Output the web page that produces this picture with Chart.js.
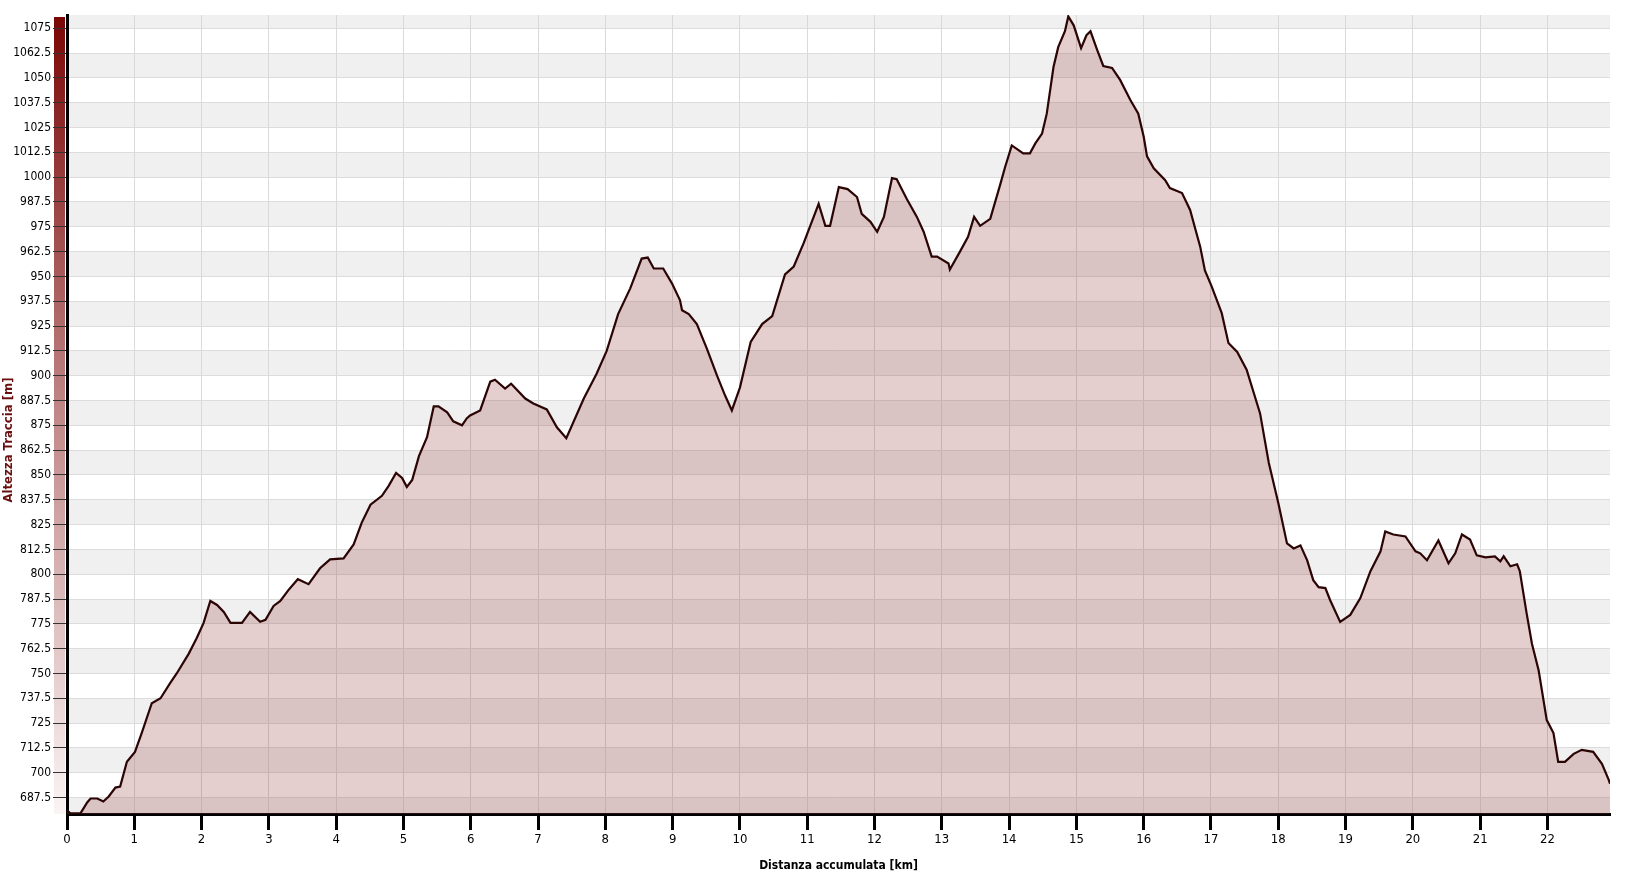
<!DOCTYPE html>
<html>
<head>
<meta charset="utf-8">
<script src="https://cdn.jsdelivr.net/npm/chart.js@4/dist/chart.umd.min.js"></script>
<style>
  body { margin: 0; background: #fff; }
</style>
</head>
<body>
<canvas id="profile" width="1638" height="877"></canvas>
<script>
// distance along the track (km) and altitude (m)
const distKm = [0, 0.05, 0.2, 0.3, 0.35, 0.45, 0.54, 0.62, 0.72, 0.79, 0.89, 1.01, 1.11, 1.26, 1.39, 1.53, 1.63, 1.81, 1.93, 2.03,
  2.13, 2.23, 2.33, 2.43, 2.6, 2.72, 2.87, 2.95, 3.07, 3.17, 3.29, 3.43, 3.59, 3.76, 3.91, 4.11, 4.26, 4.38, 4.51, 4.68,
  4.78, 4.89, 4.98, 5.05, 5.13, 5.23, 5.35, 5.45, 5.52, 5.65, 5.74, 5.87, 5.94, 5.99, 6.14, 6.29, 6.36, 6.51, 6.6, 6.81,
  6.93, 7.13, 7.28, 7.42, 7.68, 7.87, 8.02, 8.19, 8.37, 8.54, 8.63, 8.72, 8.86, 8.99, 9.11, 9.14, 9.24, 9.36, 9.51, 9.66,
  9.78, 9.88, 10.0, 10.16, 10.33, 10.48, 10.67, 10.8, 10.95, 11.17, 11.27, 11.34, 11.47, 11.6, 11.74, 11.81, 11.94, 12.04, 12.14, 12.26,
  12.33, 12.48, 12.63, 12.73, 12.85, 12.93, 13.1, 13.12, 13.27, 13.39, 13.48, 13.57, 13.72, 13.87, 13.94, 14.04, 14.21, 14.31, 14.39, 14.49,
  14.56, 14.66, 14.73, 14.83, 14.88, 14.96, 15.07, 15.15, 15.21, 15.31, 15.4, 15.53, 15.65, 15.8, 15.92, 16.0, 16.05, 16.15, 16.32, 16.39,
  16.57, 16.69, 16.84, 16.91, 17.01, 17.16, 17.26, 17.39, 17.53, 17.73, 17.86, 18.0, 18.13, 18.23, 18.33, 18.43, 18.52, 18.6, 18.7, 18.77,
  18.92, 19.07, 19.22, 19.37, 19.52, 19.59, 19.71, 19.89, 20.04, 20.11, 20.21, 20.38, 20.53, 20.63, 20.73, 20.85, 20.95, 21.08, 21.22, 21.3,
  21.35, 21.45, 21.55, 21.59, 21.69, 21.77, 21.87, 21.99, 22.09, 22.16, 22.26, 22.39, 22.51, 22.68, 22.81, 22.91, 22.93];
const altM = [681, 679.5, 679.5, 685, 687, 687, 685.5, 688, 692.5, 693, 705.5, 710.5, 720, 735, 737.5, 745, 750, 760, 768, 775.5,
  786.5, 784.5, 781, 775.5, 775.5, 781, 776, 777, 784, 786.5, 792, 797.5, 795, 803, 807.5, 808, 815, 826, 835, 839.5,
  844.5, 851, 848.5, 844, 847.5, 859.5, 869, 884.5, 884.5, 881.5, 877, 875, 878.5, 880, 882.5, 897, 898, 893.5, 896, 888.5,
  886, 883, 874, 868.5, 888.5, 901, 912.5, 931, 944, 959, 959.5, 954, 954, 946.5, 938, 933, 931, 926, 913.5, 900,
  890, 882.5, 894, 917, 926, 930, 951, 955, 967, 986.5, 975.5, 975.5, 995, 994, 990, 981.5, 977.5, 972.5, 980, 999.5,
  999, 989, 980, 972.5, 960, 960, 956.5, 953.5, 962.5, 970, 980, 975.5, 979, 996.5, 1005, 1016, 1012, 1012, 1017, 1022,
  1032, 1055.5, 1065.5, 1073.5, 1081, 1076.5, 1065, 1071.5, 1073.5, 1064, 1056, 1055, 1049, 1039, 1032, 1020.5, 1010.5, 1004.5, 998.5, 994.5,
  992, 983.5, 965, 953, 945, 931.5, 916.5, 912, 903, 881, 856, 836, 815.5, 813, 814.5, 807, 797, 793.5, 793, 787,
  776, 779.5, 788, 801.5, 811.5, 821.5, 820, 819, 811.5, 810.5, 807, 817, 805.5, 810.5, 820, 817.5, 809.5, 808.5, 809, 806.5,
  809, 804, 805, 801.5, 780.5, 765, 751.5, 726.5, 720, 705.5, 705.5, 709.5, 711.5, 710.5, 704.5, 696.5, 694.5];

const kmTicks = [0, 1, 2, 3, 4, 5, 6, 7, 8, 9, 10, 11, 12, 13, 14, 15, 16, 17, 18, 19, 20, 21, 22];
const altTicks = [687.5, 700, 712.5, 725, 737.5, 750, 762.5, 775, 787.5, 800, 812.5, 825, 837.5, 850, 862.5, 875, 887.5, 900,
  912.5, 925, 937.5, 950, 962.5, 975, 987.5, 1000, 1012.5, 1025, 1037.5, 1050, 1062.5, 1075];

// grey / white bands behind the plot, plus the red gradient strip beside the y axis
const bandsPlugin = {
  id: 'bands',
  beforeDraw(chart) {
    const ctx = chart.ctx, area = chart.chartArea, y = chart.scales.y;
    ctx.save();
    ctx.beginPath();
    ctx.rect(area.left, area.top, area.right - area.left, area.bottom - area.top);
    ctx.clip();
    for (let v = 675, k = 0; v < 1100; v += 12.5, k++) {
      if (k % 2 !== 0) continue;
      const top = y.getPixelForValue(v + 12.5);
      const bot = y.getPixelForValue(v);
      ctx.fillStyle = '#f0f0f0';
      ctx.fillRect(area.left, top, area.right - area.left, bot - top);
    }
    ctx.restore();

    const g = ctx.createLinearGradient(0, area.top, 0, area.bottom);
    g.addColorStop(0, '#7a0505');
    g.addColorStop(0.5, '#c08888');
    g.addColorStop(1, '#fbf4f4');
    ctx.fillStyle = g;
    ctx.fillRect(area.left - 13, area.top + 2, 11, area.bottom - area.top - 2);
  },
  afterDraw(chart) {
    const ctx = chart.ctx;
    ctx.save();
    ctx.translate(9, 440);
    ctx.rotate(-Math.PI / 2);
    ctx.font = 'bold 13px "DejaVu Sans Condensed"';
    ctx.fillStyle = '#6a0f0f';
    ctx.textAlign = 'center';
    ctx.textBaseline = 'middle';
    ctx.fillText('Altezza Traccia [m]', 0, 0);
    ctx.restore();
  }
};

const points = distKm.map((d, i) => ({ x: d, y: altM[i] }));

new Chart(document.getElementById('profile'), {
  type: 'line',
  data: {
    datasets: [{
      data: points,
      borderColor: '#2b0404',
      borderWidth: 2.2,
      backgroundColor: 'rgba(150,60,60,0.25)',
      fill: 'start',
      pointRadius: 0,
      tension: 0
    }]
  },
  options: {
    responsive: false,
    animation: false,
    layout: { padding: { top: 15, right: 28, left: 0, bottom: 0 } },
    plugins: { legend: { display: false }, tooltip: { enabled: false } },
    scales: {
      x: {
        type: 'linear',
        min: 0,
        max: 22.93,
        afterBuildTicks: s => { s.ticks = kmTicks.map(v => ({ value: v })); },
        afterFit: s => { s.height = 63; },
        ticks: { font: { family: 'DejaVu Sans Condensed', size: 13 }, color: '#000', padding: 2, maxRotation: 0, callback: v => String(v) },
        grid: { color: '#d9d9d9', lineWidth: 1, tickLength: 16, tickColor: '#000', tickWidth: 3 },
        border: { color: '#000', width: 3 },
        title: {
          display: true,
          text: 'Distanza accumulata [km]',
          color: '#000',
          font: { family: 'DejaVu Sans Condensed', size: 12, weight: 'bold' },
          padding: { top: 0, bottom: 4 }
        }
      },
      y: {
        type: 'linear',
        min: 679.2,
        max: 1081.7,
        afterBuildTicks: s => { s.ticks = altTicks.map(v => ({ value: v })); },
        afterFit: s => { s.width = 67; },
        ticks: { font: { family: 'DejaVu Sans Condensed', size: 12 }, color: '#000', padding: 2, callback: v => String(v) },
        grid: { color: '#dcdcdc', lineWidth: 1, tickLength: 14, tickColor: '#333', tickWidth: 1 },
        border: { color: '#000', width: 3 }
      }
    }
  },
  plugins: [bandsPlugin]
});
</script>
</body>
</html>
